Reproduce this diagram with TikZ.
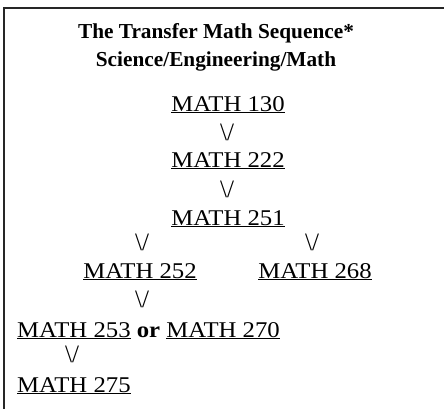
\documentclass[tikz,border=0pt]{standalone}
\usepackage{fontspec}
\setmainfont{Liberation Serif}
\newfontfamily\bodyfont[FakeStretch=1.1]{Liberation Serif}
\newcommand\crs[1]{\underline{MATH #1}}
\newcommand\dn{\textbackslash/}
\tikzset{
  course/.style={inner sep=0pt, anchor=base, font=\bodyfont\fontsize{22.5}{27}\selectfont},
  course left/.style={course, anchor=base west},
  downmark/.style={inner sep=0pt, anchor=base, font=\fontsize{25}{30}\selectfont},
  titletxt/.style={inner sep=0pt, anchor=base, font=\bfseries\fontsize{21.3}{26}\selectfont},
  frame/.style={line width=2.5pt, draw=black!85}
}
\begin{document}
\begin{tikzpicture}[x=1pt, y=-1pt]
  \useasboundingbox (0,0) rectangle (444,409);
  \draw[frame] (4,409) -- (4,8) -- (444,8);
  \node[titletxt] (t1) at (216,39) {The Transfer Math Sequence*};
  \node[titletxt] (t2) at (216,67) {Science/Engineering/Math};
  \node[course] (m130) at (228,111) {\crs{130}};
  \node[downmark] (a1) at (227,140) {\dn};
  \node[course] (m222) at (228,167) {\crs{222}};
  \node[downmark] (a2) at (227,197) {\dn};
  \node[course] (m251) at (228,225) {\crs{251}};
  \node[downmark] (a3) at (142,250) {\dn};
  \node[downmark] (a4) at (312,250) {\dn};
  \node[course] (m252) at (140,278) {\crs{252}};
  \node[course] (m268) at (315,278) {\crs{268}};
  \node[downmark] (a5) at (142,307) {\dn};
  \node[course left] (m253) at (17,337) {\crs{253} \textbf{or} \crs{270}};
  \node[downmark] (a6) at (72,362) {\dn};
  \node[course left] (m275) at (17,392) {\crs{275}};
\end{tikzpicture}
\end{document}
